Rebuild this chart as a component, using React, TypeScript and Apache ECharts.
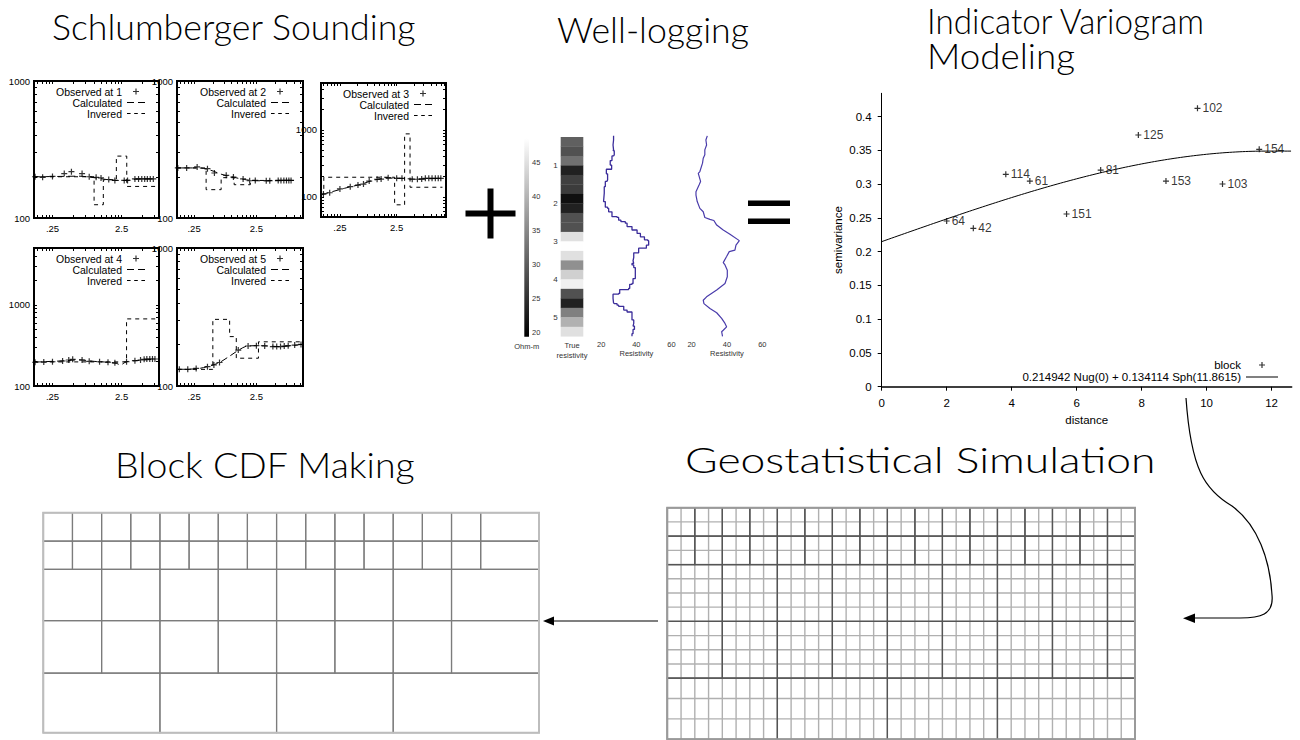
import React, { useEffect, useRef } from "react";
import * as echarts from "echarts";

// ---------------- text ----------------
const titleTexts = ["Schlumberger Sounding", "Well-logging", "Indicator Variogram", "Modeling", "Block CDF Making", "Geostatistical Simulation"];

// ---------------- Schlumberger sounding data: [AB/2, apparent resistivity (ohm-m)] ----------------
const observed1 = [[0.14, 200], [0.18, 198], [0.25, 201], [0.37, 211], [0.47, 218], [0.67, 211], [0.85, 200], [1.07, 198], [1.26, 196], [1.63, 191], [2.0, 188], [2.73, 188], [3.05, 188], [3.9, 193], [4.4, 193], [4.9, 193], [5.4, 193], [5.9, 193], [6.5, 193], [7.2, 193]];
const calculated1 = [[0.14, 200], [0.3, 201], [0.6, 202], [1.0, 197], [1.5, 191], [2.2, 188], [3.0, 188], [4.0, 192], [7.3, 193]];
const inverted1 = [[0.135, 200], [1.0, 125], [1.36, 190], [2.1, 283], [2.97, 170], [8.7, 170]];

const observed2 = [[0.137, 232], [0.19, 232], [0.28, 236], [0.41, 229], [0.53, 213], [0.82, 205], [1.07, 199], [1.53, 193], [1.95, 187], [2.4, 188], [3.6, 187], [4.1, 187], [5.6, 188], [6.2, 188], [6.9, 188], [7.6, 188], [8.3, 188], [9.0, 188]];
const calculated2 = [[0.137, 232], [0.3, 232], [0.45, 224], [0.7, 208], [1.1, 198], [1.6, 191], [2.5, 187], [4.5, 187], [9.2, 188]];
const inverted2 = [[0.133, 232], [0.39, 161], [0.68, 197], [1.1, 175], [2.0, 188], [10, 188]];

const observed3 = [[0.128, 110], [0.165, 115], [0.25, 131], [0.38, 142], [0.52, 150], [0.65, 155], [0.82, 172], [1.13, 183], [1.33, 184], [1.77, 193], [2.5, 189], [3.1, 189], [4.7, 183], [5.8, 183], [6.9, 184], [8.0, 189], [9.2, 189], [10.5, 189], [12, 189], [13.5, 189], [15, 189]];
const calculated3 = [[0.12, 108], [0.3, 134], [0.6, 155], [1.0, 178], [1.8, 190], [3.0, 189], [5.0, 184], [15, 189]];
const inverted3 = [[0.116, 110], [0.13, 196], [2.3, 76], [3.45, 870], [4.3, 139], [16, 139]];

const observed4 = [[0.14, 196], [0.187, 197], [0.25, 199], [0.35, 203], [0.43, 209], [0.49, 213], [0.67, 209], [0.85, 201], [1.2, 199], [1.59, 196], [2.0, 193], [2.95, 199], [3.9, 205], [4.7, 209], [5.3, 213], [5.8, 215], [6.4, 215], [7.0, 215], [7.6, 215]];
const calculated4 = [[0.14, 197], [0.4, 205], [0.6, 210], [1.0, 201], [1.6, 196], [2.1, 190], [2.4, 182], [2.9, 198], [4.0, 205], [7.6, 214]];
const inverted4 = [[0.136, 198], [2.95, 670], [8.7, 670]];

const observed5 = [[0.145, 132], [0.198, 132], [0.27, 134], [0.41, 138], [0.52, 142], [0.64, 148], [1.28, 182], [1.84, 195], [2.5, 196], [3.4, 195], [4.6, 193], [5.3, 193], [6.1, 193], [7.0, 195], [8.1, 196], [10.3, 198], [13, 200]];
const calculated5 = [[0.14, 132], [0.3, 134], [0.6, 146], [0.9, 163], [1.3, 182], [1.8, 195], [3.0, 196], [6.0, 193], [13, 200]];
const inverted5 = [[0.133, 132], [0.5, 304], [0.93, 228], [1.19, 159], [2.7, 209], [14, 209]];

const soundingXLabelValues = [0.25, 2.5];
const soundingXLabelTexts = [".25", "2.5"];
const soundingYLabelValues = [100, 1000];
const tickMultipliers = [1, 2, 3, 4, 5, 6, 7, 8, 9];
const soundingXTickBases = [0.025, 0.25, 2.5];
const soundingYTickBases = [10, 100, 1000];

// ---------------- well logging ----------------
const colorbarLabels = [20, 25, 30, 35, 40, 45];
const colorbarRange = [19.35, 48.6];
const depthLabels = [1, 2, 3, 4, 5];
const trueResDepthTop = [0.25, 0.5, 0.75, 1.0, 1.25, 1.5, 1.75, 2.0, 2.25, 2.5, 2.75, 3.0, 3.25, 3.5, 3.75, 4.0, 4.25, 4.5, 4.75, 5.0, 5.25];
const trueResValues = [30.4, 28.6, 32.2, 23.1, 26.7, 26.2, 21.2, 23.1, 28.6, 28.6, 45.0, 48.5, 45.0, 35.9, 43.2, 46.9, 28.6, 23.1, 34.0, 39.6, 45.0];
const logLabelValues = [20, 40, 60];
// step log: [depth of top of step, resistivity]
const log1Steps = [[0.22, 27.0], [0.33, 26.7], [0.46, 27.0], [0.59, 26.7], [0.61, 27.4], [0.72, 27.0], [0.75, 26.1], [0.87, 25.1], [0.99, 25.9], [1.1, 22.9], [1.22, 23.6], [1.38, 23.2], [1.42, 22.3], [1.56, 21.7], [1.73, 21.3], [1.95, 22.3], [2.1, 23.6], [2.13, 24.2], [2.22, 26.1], [2.35, 29.0], [2.37, 29.9], [2.44, 31.2], [2.48, 33.7], [2.52, 34.7], [2.61, 37.5], [2.7, 40.4], [2.79, 42.3], [2.88, 44.6], [2.96, 46.5], [2.98, 47.0], [3.1, 45.7], [3.18, 41.3], [3.3, 38.5], [3.42, 38.1], [3.51, 38.5], [3.58, 37.5], [3.62, 38.5], [3.69, 39.4], [3.98, 38.1], [4.11, 37.5], [4.13, 36.2], [4.24, 35.6], [4.27, 30.5], [4.37, 29.9], [4.39, 26.7], [4.5, 27.0], [4.62, 27.4], [4.64, 29.0], [4.68, 29.9], [4.71, 32.8], [4.81, 34.7], [4.86, 37.5], [5.07, 38.5], [5.16, 38.1], [5.23, 38.9], [5.32, 38.1], [5.43, 37.5]];
const log1Bottom = 5.5;
// smooth log: [resistivity, depth]
const log2Points = [[28.9, 0.22], [28.1, 0.33], [28.5, 0.46], [27.5, 0.59], [27.5, 0.72], [26.6, 0.81], [26.2, 0.94], [24.7, 1.16], [23.8, 1.21], [25.1, 1.42], [24.3, 1.51], [22.5, 1.69], [22.5, 1.78], [23.2, 1.95], [24.7, 2.13], [26.6, 2.22], [27.5, 2.37], [30.4, 2.42], [32.6, 2.45], [34.2, 2.57], [37.9, 2.7], [41.7, 2.81], [47.0, 2.98], [45.1, 3.1], [44.5, 3.23], [41.3, 3.27], [39.8, 3.4], [37.9, 3.56], [38.9, 3.62], [40.2, 3.76], [40.2, 3.93], [38.9, 4.11], [34.2, 4.28], [28.5, 4.46], [26.6, 4.55], [27.0, 4.64], [30.4, 4.77], [34.2, 4.88], [37.0, 5.03], [38.9, 5.16], [39.8, 5.25], [37.9, 5.34], [37.0, 5.38], [37.5, 5.5]];

// ---------------- indicator variogram ----------------
const vgDistance = [9.72, 7.9, 11.62, 3.82, 4.56, 6.74, 8.75, 10.49, 5.69, 2.0, 2.82];
const vgGamma = [0.4124, 0.3729, 0.3517, 0.3147, 0.3047, 0.321, 0.3047, 0.3003, 0.2559, 0.2455, 0.2347];
const vgPairs = [102, 125, 154, 114, 61, 81, 153, 103, 151, 64, 42];
const vgNugget = 0.214942;
const vgSph = 0.134114;
const vgRange = 11.8615;
const vgModelName = "0.214942 Nug(0) + 0.134114 Sph(11.8615)";
const vgXLabels = [0, 2, 4, 6, 8, 10, 12];
const vgYLabels = [0, 0.05, 0.1, 0.15, 0.2, 0.25, 0.3, 0.35, 0.4];

// ---------------- block CDF grid ----------------
const cdfRowEdges = [0, 2, 4, 7.6, 11.3, 15.5];
const cdfColEdges = [
  [0, 1, 2, 3, 4, 5, 6, 7, 8, 9, 10, 11, 12, 13, 14, 15, 17],
  [0, 1, 2, 3, 4, 5, 6, 7, 8, 9, 10, 11, 12, 13, 14, 15, 17],
  [0, 2, 4, 6, 8, 10, 12, 14, 17],
  [0, 2, 4, 6, 8, 10, 12, 14, 17],
  [0, 4, 8, 12, 17],
];

// ---------------- geostatistical simulation grid ----------------
const geoFineCols = [0, 1, 2, 3, 4, 5, 6, 7, 8, 9, 10, 11, 12, 13, 14, 15, 16, 17, 18, 19, 20, 21, 22, 23, 24, 25, 26, 27, 28, 29, 30, 31, 32, 33, 34];
const geoFineRows = [0, 1, 2, 3, 4, 5, 6, 7, 8, 9, 10, 11, 12, 13.43, 14.86, 16.3];
const geoBlockRowEdges = [0, 2, 4, 8, 12, 16.3];
const geoBlockColEdges = [
  [0, 2, 4, 6, 8, 10, 12, 14, 16, 18, 20, 22, 24, 26, 28, 30, 32, 34],
  [0, 2, 4, 6, 8, 10, 12, 14, 16, 18, 20, 22, 24, 26, 28, 30, 32, 34],
  [0, 4, 8, 12, 16, 20, 24, 28, 32, 34],
  [0, 4, 8, 12, 16, 20, 24, 28, 32, 34],
  [0, 8, 16, 24, 34],
];

// ---------------- layout / style ----------------
const SANS = "Liberation Sans, Arial, sans-serif";
const TITLE_FONT = "Lato, Open Sans, sans-serif";
const PLUS = "path://M2,0H3V2H5V3H3V5H2V3H0V2H2Z";
const ICON_LONG_DASH = "path://M0,0H7V1H0Z M11,0H18V1H11Z";
const ICON_SHORT_DASH = "path://M0,0H3.5V1H0Z M7,0H10.5V1H7Z M14,0H17.5V1H14Z";
const ICON_SOLID = "path://M0,0H32V1H0Z";
const titleLayout = [
  { x: 52, y: 27, size: 35, scaleX: 1.02 },
  { x: 557, y: 30, size: 35, scaleX: 1.02 },
  { x: 927, y: 20, size: 35, scaleX: 0.95 },
  { x: 927, y: 56, size: 35, scaleX: 1.05 },
  { x: 115, y: 464, size: 35, scaleX: 1.07 },
  { x: 685, y: 460, size: 35, scaleX: 1.27 },
];
const panelLayout = [
  { left: 34, top: 81, width: 125, height: 137, xMin: 0.135, xMax: 8.7, yMin: 100, yMax: 1000 },
  { left: 177, top: 81, width: 126, height: 137, xMin: 0.133, xMax: 14, yMin: 100, yMax: 1000 },
  { left: 321, top: 83, width: 125, height: 134, xMin: 0.116, xMax: 18.5, yMin: 50, yMax: 5000 },
  { left: 34, top: 248, width: 125, height: 138, xMin: 0.135, xMax: 8.7, yMin: 100, yMax: 5000 },
  { left: 177, top: 248, width: 126, height: 138, xMin: 0.133, xMax: 14, yMin: 100, yMax: 1000 },
];
const panelData = [
  { obs: observed1, calc: calculated1, inv: inverted1 },
  { obs: observed2, calc: calculated2, inv: inverted2 },
  { obs: observed3, calc: calculated3, inv: inverted3 },
  { obs: observed4, calc: calculated4, inv: inverted4 },
  { obs: observed5, calc: calculated5, inv: inverted5 },
];

const ARROW_D = "M1186,398 C1191,470 1205,490 1232,506 C1258,525 1270,560 1272,595 C1274,615 1260,618 1240,618 L1193,618";
echarts.graphic.registerShape("curveArrow", echarts.graphic.extendPath(ARROW_D, {}));

function buildOption() {
  const L = Math.log10;
  const grid: any[] = [];
  const xAxis: any[] = [];
  const yAxis: any[] = [];
  const series: any[] = [];
  const legend: any[] = [];
  const visualMap: any[] = [];

  const xTickVals: number[] = [];
  soundingXTickBases.forEach((b) => tickMultipliers.forEach((m) => xTickVals.push(b * m)));
  const yTickVals: number[] = [];
  soundingYTickBases.forEach((b) => tickMultipliers.forEach((m) => yTickVals.push(b * m)));

  const hidden = { axisLine: { show: false, onZero: false }, splitLine: { show: false } };

  // ---- sounding panels ----
  panelLayout.forEach((p, k) => {
    const d = panelData[k];
    const gi = grid.length;
    grid.push({ left: p.left, top: p.top, width: p.width, height: p.height, show: true, borderColor: "#000", borderWidth: 2, backgroundColor: "transparent" });
    const xr = [L(p.xMin), L(p.xMax)];
    const yr = [L(p.yMin), L(p.yMax)];
    const xt = xTickVals.map(L).filter((v) => v >= xr[0] && v <= xr[1]);
    const yt = yTickVals.map(L).filter((v) => v >= yr[0] && v <= yr[1]);
    const tick = (vals: number[]) => ({ show: true, inside: true, length: 3, customValues: vals, lineStyle: { color: "#000", width: 1 } });
    const xi = xAxis.length;
    xAxis.push({
      gridIndex: gi, type: "value", position: "bottom", min: xr[0], max: xr[1], ...hidden, axisTick: tick(xt),
      axisLabel: {
        customValues: soundingXLabelValues.map(L), fontSize: 9.5, color: "#000", margin: 5, fontFamily: SANS,
        formatter: (v: number) => {
          let best = 0;
          soundingXLabelValues.forEach((s, i) => { if (Math.abs(L(s) - v) < Math.abs(L(soundingXLabelValues[best]) - v)) best = i; });
          return soundingXLabelTexts[best];
        },
      },
    });
    xAxis.push({ gridIndex: gi, type: "value", position: "top", min: xr[0], max: xr[1], ...hidden, axisTick: tick(xt), axisLabel: { show: false } });
    const yi = yAxis.length;
    yAxis.push({
      gridIndex: gi, type: "value", position: "left", min: yr[0], max: yr[1], ...hidden, axisTick: tick(yt),
      axisLabel: { customValues: soundingYLabelValues.map(L), fontSize: 9.5, color: "#000", margin: 4, fontFamily: SANS, formatter: (v: number) => String(Math.round(Math.pow(10, v))) },
    });
    yAxis.push({ gridIndex: gi, type: "value", position: "right", min: yr[0], max: yr[1], ...hidden, axisTick: tick(yt), axisLabel: { show: false } });

    const obsName = "Observed at " + (k + 1);
    series.push({
      type: "scatter", name: obsName, xAxisIndex: xi, yAxisIndex: yi, symbol: PLUS, symbolSize: 6,
      itemStyle: { color: "#000" }, data: d.obs.map(([a, r]) => [L(a), L(r)]), silent: true,
    });
    series.push({
      type: "line", name: "Calculated", xAxisIndex: xi, yAxisIndex: yi, symbol: "none", smooth: 0.3,
      lineStyle: { color: "#000", width: 1, type: [7, 4] }, itemStyle: { color: "#000" },
      data: d.calc.map(([a, r]) => [L(a), L(r)]), silent: true,
    });
    series.push({
      type: "line", name: "Invered", xAxisIndex: xi, yAxisIndex: yi, symbol: "none", step: "end",
      lineStyle: { color: "#000", width: 1, type: [4, 4] }, itemStyle: { color: "#000" },
      data: d.inv.map(([a, r]) => [L(a), L(r)]), silent: true,
    });
    legend.push({
      data: [{ name: obsName, icon: PLUS }, { name: "Calculated", icon: ICON_LONG_DASH }, { name: "Invered", icon: ICON_SHORT_DASH }],
      orient: "vertical", align: "right",
      right: 1300 - (p.left + p.width - 14), top: p.top + 5, itemWidth: 18, itemHeight: 6, itemGap: 0, padding: 0,
      selectedMode: false, textStyle: { fontSize: 10.5, lineHeight: 10, color: "#000", fontFamily: SANS },
    });
  });

  // ---- well logging ----
  const depthTop = 127.5;
  const depthMax = 5.545;
  const depthHeight = 338 - depthTop;
  const smallLabel = { fontSize: 7.5, color: "#333", fontFamily: SANS };

  // colour bar
  const gCb = grid.length;
  grid.push({ left: 524.3, top: 138.3, width: 4.7, height: 198.4 });
  const xCb = xAxis.length;
  xAxis.push({ gridIndex: gCb, type: "value", min: 0, max: 1, ...hidden, axisTick: { show: false }, axisLabel: { show: false }, name: "Ohm-m", nameLocation: "middle", nameGap: 6, nameTextStyle: smallLabel });
  const yCb = yAxis.length;
  yAxis.push({ gridIndex: gCb, type: "value", position: "right", min: colorbarRange[0], max: colorbarRange[1], ...hidden, axisTick: { show: false }, axisLabel: { ...smallLabel, customValues: colorbarLabels, margin: 3 } });
  series.push({
    type: "custom", xAxisIndex: xCb, yAxisIndex: yCb, silent: true, encode: { x: [0, 1], y: [2, 3] },
    data: [[0, 1, colorbarRange[0], colorbarRange[1]]],
    renderItem: (params: any, api: any) => {
      const a = api.coord([api.value(0), api.value(3)]);
      const b = api.coord([api.value(1), api.value(2)]);
      return {
        type: "rect", shape: { x: a[0], y: a[1], width: b[0] - a[0], height: b[1] - a[1] },
        style: { fill: new echarts.graphic.LinearGradient(0, 0, 0, 1, [{ offset: 0, color: "#ffffff" }, { offset: 1, color: "#000000" }]) },
      };
    },
  });

  // true resistivity column
  const gTr = grid.length;
  grid.push({ left: 560.7, top: depthTop, width: 22.6, height: depthHeight });
  const xTr = xAxis.length;
  xAxis.push({ gridIndex: gTr, type: "value", min: 0, max: 1, ...hidden, axisTick: { show: false }, axisLabel: { show: false }, name: "True\nresistivity", nameLocation: "middle", nameGap: 3, nameTextStyle: { ...smallLabel, lineHeight: 9.5 } });
  const yTr = yAxis.length;
  yAxis.push({ gridIndex: gTr, type: "value", inverse: true, min: 0, max: depthMax, ...hidden, axisTick: { show: false }, axisLabel: { ...smallLabel, fontSize: 8, customValues: depthLabels, margin: 3 } });
  const trIdx = series.length;
  series.push({
    type: "custom", xAxisIndex: xTr, yAxisIndex: yTr, silent: true, encode: { x: [0, 1], y: [2, 3] },
    data: trueResDepthTop.map((t, i) => [0, 1, t, t + 0.25, trueResValues[i]]),
    renderItem: (params: any, api: any) => {
      const a = api.coord([api.value(0), api.value(2)]);
      const b = api.coord([api.value(1), api.value(3)]);
      return { type: "rect", shape: { x: a[0], y: a[1], width: b[0] - a[0], height: b[1] - a[1] + 0.3 }, style: { fill: api.visual("color") } };
    },
  });
  visualMap.push({ type: "continuous", show: false, seriesIndex: trIdx, dimension: 4, min: colorbarRange[0], max: colorbarRange[1], inRange: { color: ["#000000", "#ffffff"] } });

  const logAxes = (left: number, width: number) => {
    const g = grid.length;
    grid.push({ left, top: depthTop, width, height: depthHeight });
    const xi = xAxis.length;
    xAxis.push({ gridIndex: g, type: "value", min: 15, max: 65, ...hidden, axisTick: { show: false }, axisLabel: { ...smallLabel, customValues: logLabelValues, margin: 2 }, name: "Resistivity", nameLocation: "middle", nameGap: 11, nameTextStyle: smallLabel });
    const yi = yAxis.length;
    yAxis.push({ gridIndex: g, type: "value", inverse: true, min: 0, max: depthMax, show: false });
    return [xi, yi];
  };
  const [xL1, yL1] = logAxes(592.5, 87.75);
  const l1data = log1Steps.map(([dd, v]) => [v, dd]);
  l1data.push([log1Steps[log1Steps.length - 1][1], log1Bottom]);
  series.push({ type: "line", xAxisIndex: xL1, yAxisIndex: yL1, step: "start", symbol: "none", silent: true, lineStyle: { color: "#3a2c9a", width: 1.3 }, data: l1data });
  const [xL2, yL2] = logAxes(682.7, 88.5);
  series.push({ type: "line", xAxisIndex: xL2, yAxisIndex: yL2, symbol: "none", silent: true, lineStyle: { color: "#4a3cab", width: 1.2 }, data: log2Points });

  // ---- variogram ----
  const gV = grid.length;
  grid.push({ left: 881.7, top: 93.3, width: 410, height: 293.4 });
  const vgText = { fontSize: 11.5, color: "#000", fontFamily: SANS };
  const xV = xAxis.length;
  xAxis.push({
    gridIndex: gV, type: "value", min: 0, max: 12.62, splitLine: { show: false },
    axisLine: { onZero: false, lineStyle: { color: "#000", width: 1.5 } },
    axisTick: { customValues: vgXLabels, length: 4, lineStyle: { color: "#000" } },
    axisLabel: { ...vgText, customValues: vgXLabels, margin: 10 },
    name: "distance", nameLocation: "middle", nameGap: 27, nameTextStyle: vgText,
  });
  const yV = yAxis.length;
  yAxis.push({
    gridIndex: gV, type: "value", min: 0, max: 0.4347, splitLine: { show: false },
    axisLine: { show: true, onZero: false, lineStyle: { color: "#000", width: 1 } },
    axisTick: { show: true, customValues: vgYLabels, length: 4, lineStyle: { color: "#000" } },
    axisLabel: { ...vgText, customValues: vgYLabels, margin: 10, formatter: (v: number) => String(parseFloat(v.toFixed(3))) },
    name: "semivariance", nameLocation: "middle", nameGap: 38, nameRotate: 90, nameTextStyle: vgText,
  });
  series.push({
    type: "scatter", name: "block", xAxisIndex: xV, yAxisIndex: yV, symbol: PLUS, symbolSize: 6, silent: true,
    itemStyle: { color: "#000" },
    data: vgDistance.map((dd, i) => [dd, vgGamma[i], vgPairs[i]]),
    label: { show: true, position: "right", distance: 2, formatter: (p: any) => String(p.value[2]), ...vgText, fontSize: 12 },
  });
  // spherical model curve evaluated from the fitted parameters shown in the legend
  const modelData: number[][] = [];
  for (let i = 0; i <= 126; i++) {
    const h = Math.min(i * 0.1, 12.62);
    const r = h / vgRange;
    const g = h >= vgRange ? vgNugget + vgSph : vgNugget + vgSph * (1.5 * r - 0.5 * r * r * r);
    modelData.push([h, g]);
  }
  modelData.push([12.62, vgNugget + vgSph]);
  series.push({ type: "line", name: vgModelName, xAxisIndex: xV, yAxisIndex: yV, symbol: "none", silent: true, lineStyle: { color: "#000", width: 1 }, itemStyle: { color: "#000" }, data: modelData });
  legend.push({
    data: [{ name: "block", icon: PLUS }, { name: vgModelName, icon: ICON_SOLID }], orient: "vertical", align: "right", right: 22, top: 359,
    itemWidth: 32, itemHeight: 6, itemGap: 0, padding: 0, selectedMode: false,
    textStyle: { ...vgText, lineHeight: 11.7 },
  });

  // ---- block grids ----
  const rectRender = (stroke: string, width: number) => (params: any, api: any) => {
    const a = api.coord([api.value(0), api.value(2)]);
    const b = api.coord([api.value(1), api.value(3)]);
    return { type: "rect", shape: { x: a[0], y: a[1], width: b[0] - a[0], height: b[1] - a[1] }, style: { fill: "none", stroke, lineWidth: width } };
  };
  const lineRender = (stroke: string, width: number) => (params: any, api: any) => {
    const a = api.coord([api.value(0), api.value(2)]);
    const b = api.coord([api.value(1), api.value(3)]);
    return { type: "line", shape: { x1: a[0], y1: a[1], x2: b[0], y2: b[1] }, style: { stroke, lineWidth: width } };
  };
  const blocksFrom = (rowEdges: number[], colEdges: number[][]) => {
    const out: number[][] = [];
    colEdges.forEach((cols, r) => {
      for (let c = 0; c < cols.length - 1; c++) out.push([cols[c], cols[c + 1], rowEdges[r], rowEdges[r + 1]]);
    });
    return out;
  };

  // block CDF
  const gB = grid.length;
  grid.push({ left: 43.3, top: 512.7, width: 495.7, height: 220 });
  const xB = xAxis.length;
  xAxis.push({ gridIndex: gB, type: "value", min: 0, max: 17, show: false });
  const yB = yAxis.length;
  yAxis.push({ gridIndex: gB, type: "value", min: 0, max: 15.5, inverse: true, show: false });
  series.push({ type: "custom", xAxisIndex: xB, yAxisIndex: yB, silent: true, encode: { x: [0, 1], y: [2, 3] }, data: blocksFrom(cdfRowEdges, cdfColEdges), renderItem: rectRender("#7c7c7c", 1.2) });
  series.push({ type: "custom", xAxisIndex: xB, yAxisIndex: yB, silent: true, encode: { x: [0, 1], y: [2, 3] }, data: [[0, 17, 0, 15.5]], renderItem: rectRender("#bdbdbd", 2), z: 3 });

  // geostatistical grid
  const gG = grid.length;
  grid.push({ left: 667.3, top: 507.7, width: 467.7, height: 231.6 });
  const xG = xAxis.length;
  xAxis.push({ gridIndex: gG, type: "value", min: 0, max: 34, show: false });
  const yG = yAxis.length;
  yAxis.push({ gridIndex: gG, type: "value", min: 0, max: 16.3, inverse: true, show: false });
  const fineLines: number[][] = [];
  geoFineCols.forEach((c) => fineLines.push([c, c, 0, geoFineRows[geoFineRows.length - 1]]));
  geoFineRows.forEach((r) => fineLines.push([0, geoFineCols[geoFineCols.length - 1], r, r]));
  series.push({ type: "custom", xAxisIndex: xG, yAxisIndex: yG, silent: true, encode: { x: [0, 1], y: [2, 3] }, data: fineLines, renderItem: lineRender("#b0b0b0", 1.4) });
  series.push({ type: "custom", xAxisIndex: xG, yAxisIndex: yG, silent: true, encode: { x: [0, 1], y: [2, 3] }, data: blocksFrom(geoBlockRowEdges, geoBlockColEdges), renderItem: rectRender("#555555", 1.2), z: 3 });
  series.push({ type: "custom", xAxisIndex: xG, yAxisIndex: yG, silent: true, encode: { x: [0, 1], y: [2, 3] }, data: [[0, 34, 0, 16.3]], renderItem: rectRender("#9a9a9a", 2), z: 4 });

  // ---- graphics: titles, operators, arrows ----
  const graphic: any[] = [];
  titleTexts.forEach((t, i) => {
    const tl = titleLayout[i];
    graphic.push({
      type: "text", x: tl.x, y: tl.y, scaleX: tl.scaleX, scaleY: 1,
      style: { text: t, fontSize: tl.size, fontWeight: 300, fontFamily: TITLE_FONT, fill: "#000", textAlign: "left", textVerticalAlign: "middle" },
    });
  });
  graphic.push({ type: "rect", shape: { x: 465.5, y: 210.5, width: 50, height: 6 }, style: { fill: "#000" } });
  graphic.push({ type: "rect", shape: { x: 487.5, y: 188.5, width: 6, height: 50 }, style: { fill: "#000" } });
  graphic.push({ type: "rect", shape: { x: 748, y: 200.5, width: 42, height: 5.5 }, style: { fill: "#000" } });
  graphic.push({ type: "rect", shape: { x: 748, y: 218.5, width: 42, height: 5.5 }, style: { fill: "#000" } });
  graphic.push({ type: "line", shape: { x1: 658, y1: 621, x2: 551, y2: 621 }, style: { stroke: "#000", lineWidth: 1.2 } });
  graphic.push({ type: "polygon", shape: { points: [[543, 621], [554, 616.5], [554, 625.5]] }, style: { fill: "#000" } });
  graphic.push({ type: "curveArrow", x: 0, y: 0, style: { stroke: "#000", fill: "none", lineWidth: 1.2 } });
  graphic.push({ type: "polygon", shape: { points: [[1183, 618.3], [1195, 613.5], [1195, 623]] }, style: { fill: "#000" } });

  return { animation: false, backgroundColor: "#ffffff", grid, xAxis, yAxis, series, legend, visualMap, graphic };
}

export default function App() {
  const ref = useRef<HTMLDivElement>(null);
  useEffect(() => {
    if (!ref.current) return;
    const chart = echarts.init(ref.current, null, { renderer: "svg" });
    chart.setOption(buildOption());
    return () => chart.dispose();
  }, []);
  return <div ref={ref} style={{ position: "fixed", left: 0, top: 0, width: 1300, height: 740, background: "#fff" }} />;
}
